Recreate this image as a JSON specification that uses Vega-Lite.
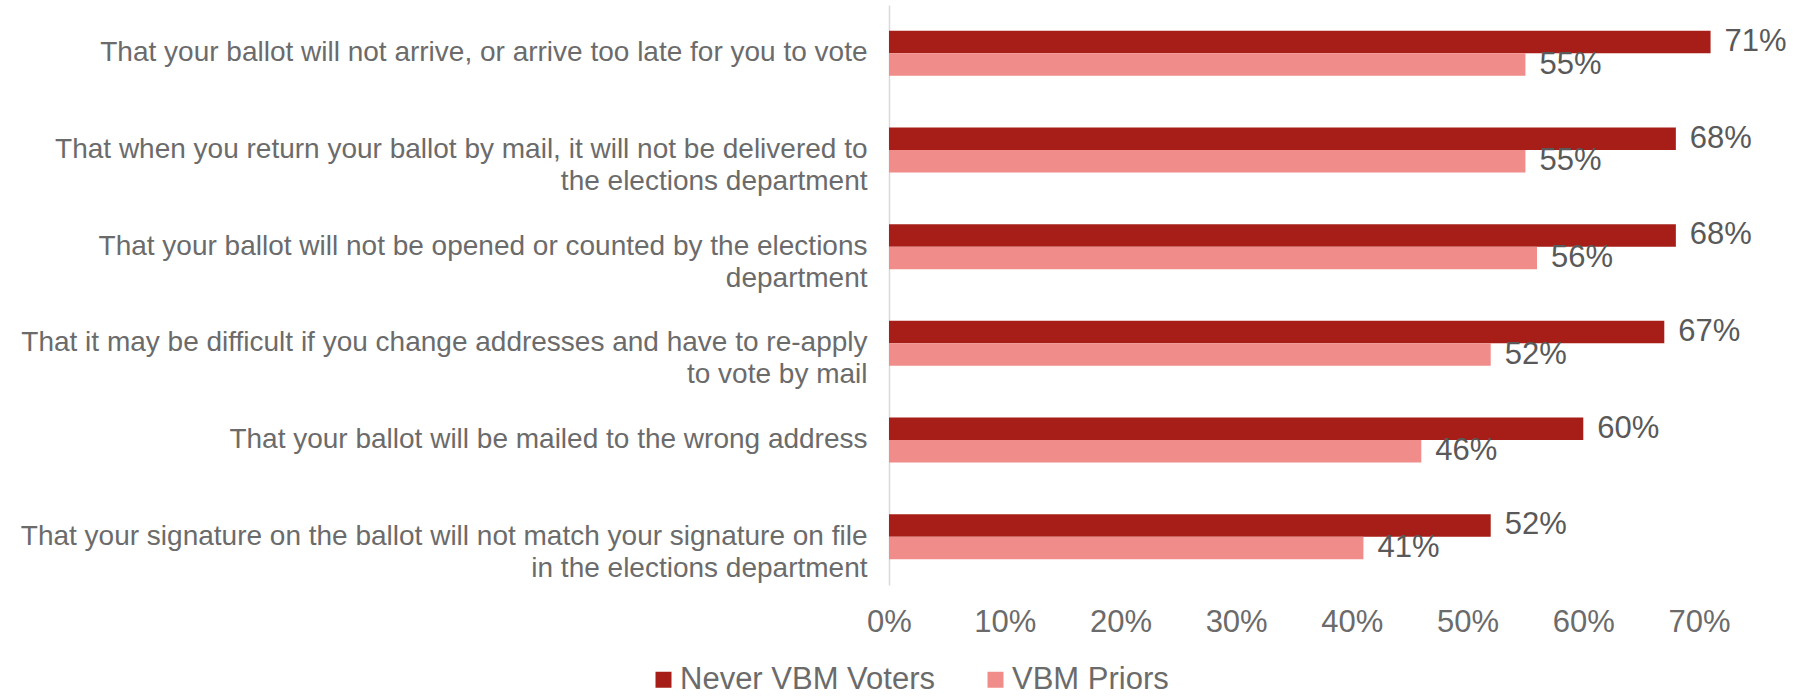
{
  "$schema": "https://vega.github.io/schema/vega-lite/v6.json",
  "autosize": "none",
  "width": 810,
  "height": 580,
  "padding": {"left": 889, "top": 5, "right": 107, "bottom": 112},
  "background": "white",
  "config": {
    "view": {"stroke": null},
    "font": "Liberation Sans, Arial",
    "text": {"font": "Liberation Sans, Arial"}
  },
  "data": {
    "values": [
      {"item": "That your ballot will not arrive, or arrive too late for you to vote", "series": "Never VBM Voters", "value": 0.71},
      {"item": "That your ballot will not arrive, or arrive too late for you to vote", "series": "VBM Priors", "value": 0.55},
      {"item": "That when you return your ballot by mail, it will not be delivered to|the elections department", "series": "Never VBM Voters", "value": 0.68},
      {"item": "That when you return your ballot by mail, it will not be delivered to|the elections department", "series": "VBM Priors", "value": 0.55},
      {"item": "That your ballot will not be opened or counted by the elections|department", "series": "Never VBM Voters", "value": 0.68},
      {"item": "That your ballot will not be opened or counted by the elections|department", "series": "VBM Priors", "value": 0.56},
      {"item": "That it may be difficult if you change addresses and have to re-apply|to vote by mail", "series": "Never VBM Voters", "value": 0.67},
      {"item": "That it may be difficult if you change addresses and have to re-apply|to vote by mail", "series": "VBM Priors", "value": 0.52},
      {"item": "That your ballot will be mailed to the wrong address", "series": "Never VBM Voters", "value": 0.60},
      {"item": "That your ballot will be mailed to the wrong address", "series": "VBM Priors", "value": 0.46},
      {"item": "That your signature on the ballot will not match your signature on file|in the elections department", "series": "Never VBM Voters", "value": 0.52},
      {"item": "That your signature on the ballot will not match your signature on file|in the elections department", "series": "VBM Priors", "value": 0.41}
    ]
  },
  "encoding": {
    "y": {
      "field": "item",
      "type": "nominal",
      "sort": null,
      "title": null,
      "scale": {"paddingInner": 0.535, "paddingOuter": 0.2675},
      "axis": {
        "labelExpr": "split(datum.label, '|')",
        "labelFontSize": 28,
        "labelColor": "#6b6b6b",
        "labelLimit": 1000,
        "labelPadding": 22,
        "labelLineHeight": 32,
        "labelAlign": "right",
        "ticks": false,
        "domainColor": "#d9d9d9",
        "domainWidth": 1.5,
        "grid": false
      }
    },
    "yOffset": {
      "field": "series",
      "type": "nominal",
      "sort": ["Never VBM Voters", "VBM Priors"],
      "scale": {"paddingInner": 0, "paddingOuter": 0}
    },
    "x": {
      "field": "value",
      "type": "quantitative",
      "title": null,
      "scale": {"domain": [0, 0.7], "nice": false},
      "axis": {
        "format": ".0%",
        "values": [0, 0.1, 0.2, 0.3, 0.4, 0.5, 0.6, 0.7],
        "labelFontSize": 31,
        "labelColor": "#6b6b6b",
        "labelPadding": 22,
        "labelBaseline": "top",
        "labelFlush": false,
        "ticks": false,
        "domain": false,
        "grid": false
      }
    }
  },
  "layer": [
    {
      "mark": {"type": "bar", "clip": false},
      "encoding": {
        "color": {
          "field": "series",
          "type": "nominal",
          "sort": ["Never VBM Voters", "VBM Priors"],
          "scale": {"domain": ["Never VBM Voters", "VBM Priors"], "range": ["#A61E17", "#F08C89"]},
          "legend": {
            "title": null,
            "orient": "none",
            "direction": "horizontal",
            "legendX": -241,
            "legendY": 659,
            "symbolType": "square",
            "symbolSize": 256,
            "symbolStrokeWidth": 0,
            "labelFontSize": 31,
            "labelColor": "#6b6b6b",
            "labelOffset": 1,
            "labelLimit": 1000,
            "columnPadding": 45
          }
        }
      }
    },
    {
      "mark": {"type": "text", "align": "left", "baseline": "middle", "dx": 14, "fontSize": 31, "color": "#595959"},
      "encoding": {
        "text": {"field": "value", "type": "quantitative", "format": ".0%"}
      }
    }
  ]
}
